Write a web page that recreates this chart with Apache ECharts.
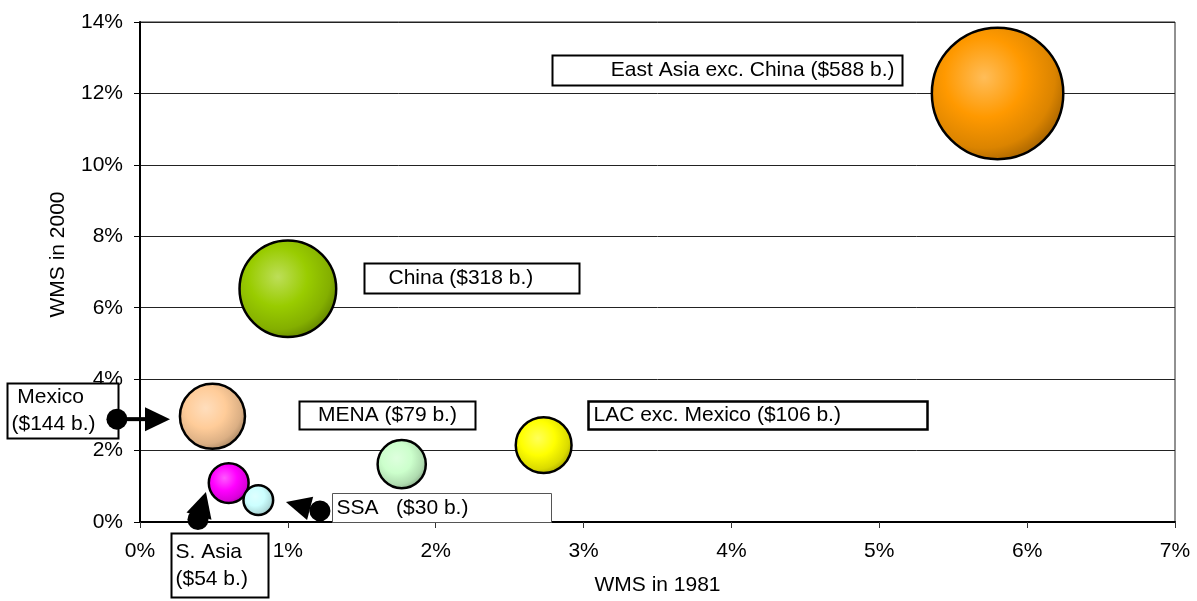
<!DOCTYPE html>
<html><head><meta charset="utf-8">
<script src="https://cdn.jsdelivr.net/npm/echarts@6/dist/echarts.min.js"></script>
<style>html,body{margin:0;padding:0;background:#fff}#c{width:1197px;height:601px}</style>
</head><body><div id="c"></div>
<script>
// ---- data ----
const regions   = ['East Asia exc. China', 'China', 'Mexico', 'MENA', 'LAC exc. Mexico', 'S. Asia', 'SSA'];
const wms1981   = [5.80, 1.00, 0.49, 1.77, 2.73, 0.60, 0.80];   // % share in 1981
const wms2000   = [12.00, 6.53, 2.96, 1.62, 2.15, 1.09, 0.61];  // % share in 2000
const exportsBn = [588, 318, 144, 79, 106, 54, 30];             // $ billions (bubble area)
const labelTexts = ['East Asia exc. China ($588 b.)', 'China ($318 b.)', ' Mexico\n($144 b.)',
                    'MENA ($79 b.)', 'LAC exc. Mexico ($106 b.)', 'S. Asia\n($54 b.)', 'SSA   ($30 b.)'];
const xTickMax = 7, yTickMax = 14;

// ---- styles / layout ----
const colors = ['#FF9900', '#99CC00', '#FFCC99', '#CCFFCC', '#FFFF00', '#FF00FF', '#CCFFFF'];
const FONT = '"Liberation Sans", Arial, sans-serif';
const FS = 21;
// annotation boxes: top-left anchor in data units, size in px
const boxes = [
  {x: 2.786, y: 13.08, w: 350, h: 30, align: 'right', pad: 8,  lw: 2, stroke: '#000'},
  {x: 1.515, y: 7.265, w: 215, h: 30, align: 'left',  pad: 24, lw: 2, stroke: '#000'},
  {x: -0.8995, y: 3.884, w: 111, h: 55, align: 'left', pad: 4, lw: 2, stroke: '#000'},
  {x: 1.075, y: 3.381, w: 176, h: 28, align: 'center', pad: 0, lw: 2, stroke: '#000'},
  {x: 3.030, y: 3.381, w: 339, h: 28, align: 'left',  pad: 5, lw: 2.5, stroke: '#000'},
  {x: 0.2097, y: -0.307, w: 97, h: 64, align: 'left', pad: 4, lw: 2, stroke: '#000'},
  {x: 1.2986, y: 0.810, w: 219, h: 29, align: 'left', pad: 4, lw: 1, stroke: '#555'}
];
// arrows: from dot (data units) to tip (data units)
const arrows = [
  {from: [-0.156, 2.88], to: [0.203, 2.88], hw: 12},
  {from: [0.392, 0.07], to: [0.446, 0.84], hw: 13},
  {from: [1.217, 0.31], to: [0.987, 0.56], hw: 12}
];

function shade(hex, f) {
  const n = parseInt(hex.slice(1), 16);
  const r = n >> 16, g = (n >> 8) & 255, b = n & 255;
  const m = c => f >= 0 ? Math.round(c + (255 - c) * f) : Math.round(c * (1 + f));
  return 'rgb(' + m(r) + ',' + m(g) + ',' + m(b) + ')';
}

const chart = echarts.init(document.getElementById('c'), null, {renderer: 'canvas'});

const series = regions.map((name, i) => ({
  name, type: 'scatter', silent: true,
  data: [[wms1981[i], wms2000[i], exportsBn[i]]],
  symbolSize: v => 5.42 * Math.sqrt(v[2]),
  itemStyle: {
    color: {type: 'radial', x: 0.4, y: 0.38, r: 0.66, colorStops: [
      {offset: 0, color: shade(colors[i], 0.35)},
      {offset: 0.45, color: colors[i]},
      {offset: 0.8, color: shade(colors[i], -0.14)},
      {offset: 1, color: shade(colors[i], -0.35)}
    ]},
    borderColor: '#000', borderWidth: 2.5, opacity: 1
  },
  emphasis: {disabled: true}
}));

chart.setOption({
  animation: false,
  backgroundColor: '#fff',
  grid: {left: 140, right: 22, top: 22, bottom: 78, show: true, borderColor: '#222', borderWidth: 1, backgroundColor: 'transparent'},
  xAxis: {
    type: 'value', min: 0, max: xTickMax, interval: 1,
    name: 'WMS in 1981', nameLocation: 'middle', nameGap: 53,
    nameTextStyle: {fontSize: FS, color: '#000', fontFamily: FONT},
    axisLabel: {formatter: '{value}%', fontSize: FS, color: '#000', fontFamily: FONT, margin: 19},
    axisLine: {show: true, onZero: false, lineStyle: {color: '#000', width: 2}},
    axisTick: {show: true, length: 6, lineStyle: {color: '#333', width: 1}},
    splitLine: {show: false}
  },
  yAxis: {
    type: 'value', min: 0, max: yTickMax, interval: 2,
    name: 'WMS in 2000', nameLocation: 'middle', nameGap: 71, nameRotate: 90,
    nameTextStyle: {fontSize: FS, color: '#000', fontFamily: FONT, padding: [0, 0, 0, 35]},
    axisLabel: {formatter: '{value}%', fontSize: FS, color: '#000', fontFamily: FONT, margin: 17},
    axisLine: {show: true, onZero: false, lineStyle: {color: '#000', width: 2}},
    axisTick: {show: true, length: 6, lineStyle: {color: '#000', width: 1}},
    splitLine: {show: true, lineStyle: {color: '#222', width: 1}}
  },
  series
});

// ---- annotations (boxes + arrows), positioned through the axes ----
const graphics = [];
boxes.forEach((b, i) => {
  const p = chart.convertToPixel({gridIndex: 0}, [b.x, b.y]);
  const x = Math.round(p[0]) + 0.5, y = Math.round(p[1]) + 0.5;
  graphics.push({type: 'rect', z: 100, shape: {x, y, width: b.w, height: b.h},
    style: {fill: '#fff', stroke: b.stroke, lineWidth: b.lw}});
  let tx = x + b.pad;
  if (b.align === 'center') tx = x + b.w / 2;
  if (b.align === 'right') tx = x + b.w - b.pad;
  graphics.push({type: 'text', z: 101, style: {
    text: labelTexts[i], x: tx, y: y + b.h / 2, align: b.align, verticalAlign: 'middle',
    font: FS + 'px ' + FONT, fill: '#000', lineHeight: 27}});
});
arrows.forEach(a => {
  const p0 = chart.convertToPixel({gridIndex: 0}, a.from);
  const p1 = chart.convertToPixel({gridIndex: 0}, a.to);
  const dx = p1[0] - p0[0], dy = p1[1] - p0[1];
  const L = Math.hypot(dx, dy), ux = dx / L, uy = dy / L;
  const hl = 25, hw = a.hw;
  const bx = p1[0] - ux * hl, by = p1[1] - uy * hl;
  graphics.push({type: 'line', z: 102, shape: {x1: p0[0], y1: p0[1], x2: bx, y2: by},
    style: {stroke: '#000', lineWidth: 4}});
  graphics.push({type: 'circle', z: 102, shape: {cx: p0[0], cy: p0[1], r: 10.5}, style: {fill: '#000'}});
  graphics.push({type: 'polygon', z: 102, shape: {points: [
    [p1[0], p1[1]], [bx - uy * hw, by + ux * hw], [bx + uy * hw, by - ux * hw]]}, style: {fill: '#000'}});
});
chart.setOption({graphic: graphics});
</script>
</body></html>
